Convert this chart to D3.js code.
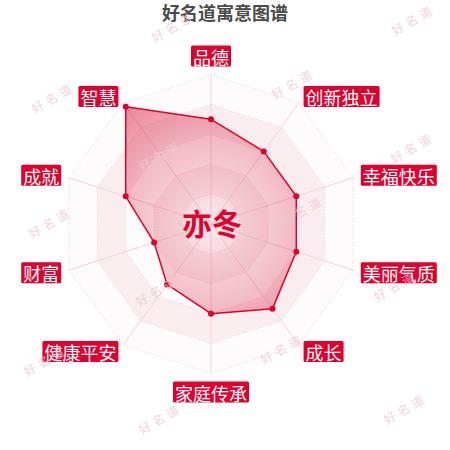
<!DOCTYPE html>
<html>
<head>
<meta charset="utf-8">
<script src="https://cdn.jsdelivr.net/npm/d3@7"></script>
<style>
  body { margin: 0; background: #fff; }
  svg { display: block; }
</style>
</head>
<body>
<script>
const chartTitle = "好名道寓意图谱";
const personName = "亦冬";
const indicators = ["品德", "创新独立", "幸福快乐", "美丽气质", "成长", "家庭传承", "健康平安", "财富", "成就", "智慧"];
const scores = [70, 60, 60, 60, 70, 60, 50, 40, 60, 97];
const maxScore = 100;
const splitLevels = [20, 40, 60, 80, 100];
const watermarkText = "好名道";
const watermarkSpots = [[53, 97], [50, 222], [45, 360], [173, 26], [160, 155], [157, 290], [160, 418],
                        [293, 83], [302, 210], [282, 348], [413, 19], [412, 147], [395, 285], [405, 408]];

const width = 450, height = 450;
const cx = 211, cy = 224, R = 149.5;
const red = "#e0002d";
const font = "'Noto Sans CJK SC', 'Noto Sans', sans-serif";

const svg = d3.select("body").append("svg")
  .attr("width", width)
  .attr("height", height);

const r = d3.scaleLinear().domain([0, maxScore]).range([0, R]);
const angle = d3.scaleLinear().domain([0, indicators.length]).range([0, 2 * Math.PI]);

const radial = d3.lineRadial()
  .angle((d, i) => angle(i))
  .radius(d => r(d))
  .curve(d3.curveLinearClosed);

// gradient for the score area
const grad = svg.append("defs").append("radialGradient")
  .attr("id", "areaGrad")
  .attr("gradientUnits", "userSpaceOnUse")
  .attr("cx", 0).attr("cy", 0).attr("r", R);
grad.append("stop").attr("offset", 0).attr("stop-color", "rgb(212,8,45)").attr("stop-opacity", 0.07);
grad.append("stop").attr("offset", 0.6).attr("stop-color", "rgb(212,8,45)").attr("stop-opacity", 0.28);
grad.append("stop").attr("offset", 1).attr("stop-color", "rgb(212,8,45)").attr("stop-opacity", 0.5);

const g = svg.append("g").attr("transform", `translate(${cx},${cy})`);

// split areas, biggest first so smaller ones sit on top
splitLevels.slice().reverse().forEach(lvl => {
  const idx = splitLevels.indexOf(lvl);
  g.append("path")
    .attr("d", radial(indicators.map(() => lvl)))
    .attr("fill", idx % 2 ? "#faedf0" : "#fefbfc");
});

// split lines (dotted)
splitLevels.forEach(lvl => {
  g.append("path")
    .attr("d", radial(indicators.map(() => lvl)))
    .attr("fill", "none")
    .attr("stroke", "#efcdd4")
    .attr("stroke-width", 1)
    .attr("stroke-dasharray", "1 2");
});

// axis lines
g.selectAll(".axis")
  .data(indicators)
  .join("line")
  .attr("x1", 0).attr("y1", 0)
  .attr("x2", (d, i) => r(maxScore) * Math.sin(angle(i)))
  .attr("y2", (d, i) => -r(maxScore) * Math.cos(angle(i)))
  .attr("stroke", "#f2d3da")
  .attr("stroke-width", 1);

// score area
g.append("path")
  .attr("d", radial(scores))
  .attr("fill", "url(#areaGrad)")
  .attr("stroke", red)
  .attr("stroke-width", 1.5)
  .attr("stroke-linejoin", "round");

g.selectAll(".pt")
  .data(scores)
  .join("circle")
  .attr("cx", (d, i) => r(d) * Math.sin(angle(i)))
  .attr("cy", (d, i) => -r(d) * Math.cos(angle(i)))
  .attr("r", 3)
  .attr("fill", red);

// axis name labels with red boxes
const labelR = R + 8;
indicators.forEach((name, i) => {
  const a = angle(i);
  const s = Math.sin(a), c = Math.cos(a);
  const px = labelR * s, py = -labelR * c;
  const lg = g.append("g");
  const t = lg.append("text")
    .text(name)
    .attr("font-family", font)
    .attr("font-size", 18)
    .attr("fill", "#fff")
    .attr("dominant-baseline", "central");
  const tw = t.node().getComputedTextLength();
  const bw = tw + 4, bh = 21;
  let left, top;
  if (Math.abs(s) < 0.01) {
    left = px - bw / 2;
    top = c > 0 ? py - bh : py;
  } else {
    left = s > 0 ? px : px - bw;
    top = py - bh / 2;
  }
  t.attr("x", left + 2).attr("y", top + bh / 2 + 0.5);
  lg.insert("rect", "text")
    .attr("x", left).attr("y", top)
    .attr("width", bw).attr("height", bh)
    .attr("rx", 1.5)
    .attr("fill", red);
});

// name in the middle
g.append("text")
  .attr("x", 1).attr("y", -2)
  .attr("text-anchor", "middle")
  .attr("dominant-baseline", "central")
  .attr("font-family", font)
  .attr("font-size", 30)
  .attr("font-weight", "bold")
  .attr("fill", red)
  .text(personName);

// title
svg.append("text")
  .attr("x", width / 2).attr("y", 12)
  .attr("text-anchor", "middle")
  .attr("dominant-baseline", "central")
  .attr("font-family", font)
  .attr("font-size", 18)
  .attr("font-weight", "bold")
  .attr("fill", "#4a4a4a")
  .text(chartTitle);

// faint watermarks
svg.append("g")
  .selectAll("text")
  .data(watermarkSpots)
  .join("text")
  .attr("transform", d => `translate(${d[0]},${d[1]}) rotate(-30)`)
  .attr("text-anchor", "middle")
  .attr("dominant-baseline", "central")
  .attr("font-family", font)
  .attr("font-size", 12)
  .attr("letter-spacing", 4)
  .attr("fill", "#eccbd2")
  .attr("opacity", 0.8)
  .text(watermarkText);
</script>
</body>
</html>
